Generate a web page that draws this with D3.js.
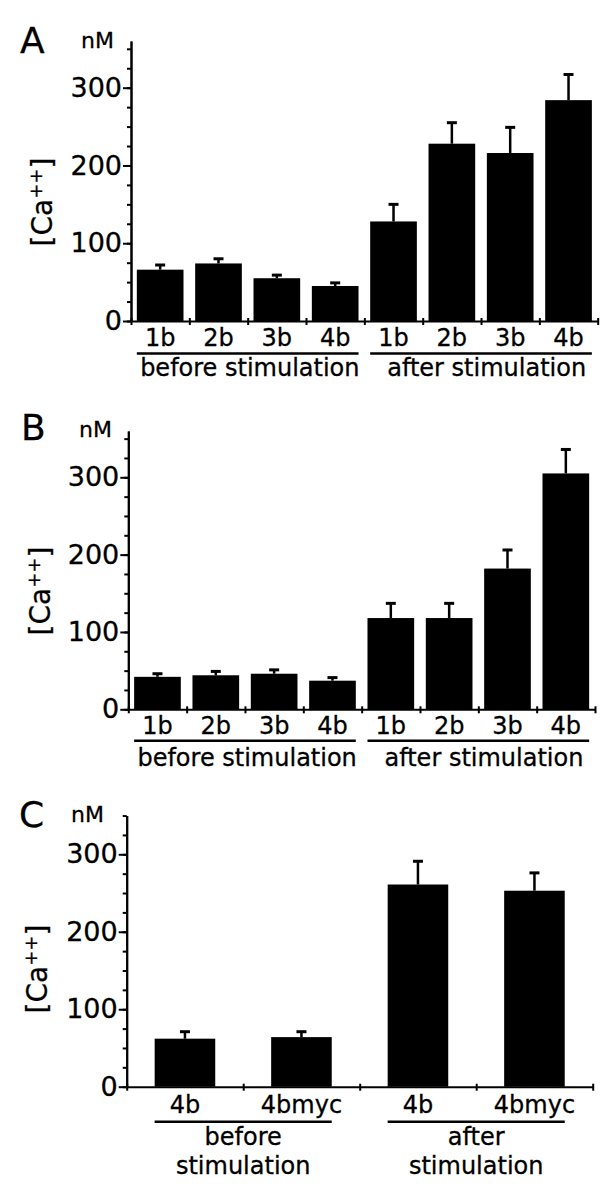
<!DOCTYPE html>
<html>
<head>
<meta charset="utf-8">
<script src="https://cdn.jsdelivr.net/npm/d3@7"></script>
<style>
  body { margin: 0; background: #fff; }
  text { font-family: "DejaVu Sans", sans-serif; fill: #000; stroke: #000; stroke-width: 0.3px; }
</style>
</head>
<body>
<div id="chart"></div>
<script>
// values, [Ca++] in nM (mean and error bar)
var catsAB = ["1b", "2b", "3b", "4b", "1b", "2b", "3b", "4b"];
var meanA = [66, 74, 55, 45, 128, 228, 216, 284];
var errA  = [6, 6, 4, 4, 22, 27, 33, 33];
var meanB = [42, 44, 46, 37, 118, 118, 182, 305];
var errB  = [4, 5, 5, 4, 19, 19, 24, 31];
var catsC = ["4b", "4bmyc", "4b", "4bmyc"];
var meanC = [62, 64, 261, 253];
var errC  = [9, 7, 30, 23];
var yTicks = [0, 100, 200, 300];
var groupsAB = ["before stimulation", "after stimulation"];
var groupsC = [["before", "stimulation"], ["after", "stimulation"]];

var svg = d3.select("#chart")
  .append("svg")
    .attr("width", 616)
    .attr("height", 1199);

svg.append("rect").attr("width", 616).attr("height", 1199).attr("fill", "#fff");

function drawPanel(p) {
  var n = p.cats.length;
  var idx = d3.range(n);

  var x = d3.scaleBand()
    .domain(idx)
    .range([p.x0, p.x1])
    .paddingInner(p.pad)
    .paddingOuter(p.pad / 2);
  var edge = d3.scaleLinear().domain([0, n]).range([p.x0, p.x1]);

  var k = (p.y0 - p.y300) / 300;
  var y = d3.scaleLinear()
    .domain([0, p.yMax])
    .range([p.y0, p.y0 - k * p.yMax]);

  var g = svg.append("g");

  // panel letter and unit
  g.append("text")
    .attr("x", p.letterX).attr("y", p.letterY)
    .style("font-size", "36px")
    .text(p.letter);
  g.append("text")
    .attr("x", p.unitX).attr("y", p.unitY)
    .style("font-size", "22px")
    .text("nM");

  // bars
  g.selectAll("rect.bar")
    .data(idx)
    .enter()
    .append("rect")
      .attr("class", "bar")
      .attr("x", function(i) { return x(i); })
      .attr("y", function(i) { return y(p.mean[i]); })
      .attr("width", x.bandwidth())
      .attr("height", function(i) { return y(0) - y(p.mean[i]); })
      .attr("fill", "#000");

  // error bars
  g.selectAll("line.err")
    .data(idx)
    .enter()
    .append("line")
      .attr("x1", function(i) { return x(i) + x.bandwidth() / 2; })
      .attr("x2", function(i) { return x(i) + x.bandwidth() / 2; })
      .attr("y1", function(i) { return y(p.mean[i]); })
      .attr("y2", function(i) { return y(p.mean[i] + p.err[i]); })
      .attr("stroke", "#000")
      .attr("stroke-width", 2.5);
  g.selectAll("line.cap")
    .data(idx)
    .enter()
    .append("line")
      .attr("x1", function(i) { return x(i) + x.bandwidth() / 2 - 5; })
      .attr("x2", function(i) { return x(i) + x.bandwidth() / 2 + 5; })
      .attr("y1", function(i) { return y(p.mean[i] + p.err[i]); })
      .attr("y2", function(i) { return y(p.mean[i] + p.err[i]); })
      .attr("stroke", "#000")
      .attr("stroke-width", 3);

  // y axis: minor ticks every 25, labelled major ticks
  var minor = g.append("g")
    .attr("transform", "translate(" + p.x0 + ",0)")
    .call(d3.axisLeft(y).tickValues(d3.range(0, 351, 25)).tickSize(4).tickSizeOuter(0).tickFormat(""));
  var major = g.append("g")
    .attr("transform", "translate(" + p.x0 + ",0)")
    .call(d3.axisLeft(y).tickValues(yTicks).tickSize(8).tickSizeOuter(0).tickPadding(1));
  [minor, major].forEach(function(a) {
    a.attr("font-family", null).attr("font-size", null);
    a.selectAll("path, line").attr("stroke", "#000").attr("stroke-width", 2);
  });
  major.selectAll("text").style("font-size", "27px");

  // x axis with ticks at the band edges
  var xa = g.append("g")
    .attr("transform", "translate(0," + p.y0 + ")")
    .call(d3.axisBottom(edge).tickValues(d3.range(n + 1)).tickSize(4).tickSizeOuter(0).tickFormat(""));
  xa.selectAll("path, line").attr("stroke", "#000").attr("stroke-width", 2);
  xa.selectAll(".tick line").attr("y1", -3);

  // category labels
  g.selectAll("text.cat")
    .data(idx)
    .enter()
    .append("text")
      .attr("x", function(i) { return x(i) + x.bandwidth() / 2; })
      .attr("y", p.y0 + p.catDy)
      .attr("text-anchor", "middle")
      .style("font-size", "24px")
      .text(function(i) { return p.cats[i]; });

  // group underlines and labels
  var half = n / 2;
  [0, 1].forEach(function(gi) {
    var a = x(gi * half), b = x(gi * half + half - 1) + x.bandwidth();
    g.append("line")
      .attr("x1", a).attr("x2", b)
      .attr("y1", p.y0 + p.lineDy).attr("y2", p.y0 + p.lineDy)
      .attr("stroke", "#000").attr("stroke-width", 2.5);
    var lines = p.groups[gi];
    if (typeof lines === "string") {
      g.append("text")
        .attr("x", gi === 0 ? b + 1 : a + 17)
        .attr("y", p.y0 + p.groupDy)
        .attr("text-anchor", gi === 0 ? "end" : "start")
        .style("font-size", "24px")
        .text(lines);
    } else {
      lines.forEach(function(t, li) {
        g.append("text")
          .attr("x", (a + b) / 2)
          .attr("y", p.y0 + p.groupDy + li * 29)
          .attr("text-anchor", "middle")
          .style("font-size", "24px")
          .text(t);
      });
    }
  });

  // y axis title [Ca++]
  var yl = g.append("text")
    .attr("transform", "translate(" + p.titleX + "," + p.titleY + ") rotate(-90)")
    .attr("text-anchor", "middle")
    .style("font-size", "28px");
  yl.append("tspan").text("[Ca");
  yl.append("tspan").attr("dy", "-0.55em").style("font-size", "18px").text("++");
  yl.append("tspan").attr("dy", "0.35em").text("]");
}

drawPanel({
  letter: "A", letterX: 20, letterY: 53, unitX: 81, unitY: 48,
  cats: catsAB, mean: meanA, err: errA, groups: groupsAB,
  x0: 131, x1: 597.7, pad: 0.2,
  y0: 321, y300: 87.7, yMax: 360,
  catDy: 25, lineDy: 32.5, groupDy: 55,
  titleX: 52, titleY: 202
});

drawPanel({
  letter: "B", letterX: 21, letterY: 440, unitX: 79, unitY: 437,
  cats: catsAB, mean: meanB, err: errB, groups: groupsAB,
  x0: 128.3, x1: 595, pad: 0.2,
  y0: 709.3, y300: 477.3, yMax: 360,
  catDy: 25, lineDy: 31.5, groupDy: 57,
  titleX: 50, titleY: 591
});

drawPanel({
  letter: "C", letterX: 19, letterY: 827, unitX: 71, unitY: 822,
  cats: catsC, mean: meanC, err: errC, groups: groupsC,
  x0: 126.7, x1: 592.7, pad: 0.48,
  y0: 1086.7, y300: 854.3, yMax: 350,
  catDy: 26, lineDy: 35, groupDy: 58,
  titleX: 47, titleY: 969
});
</script>
</body>
</html>
